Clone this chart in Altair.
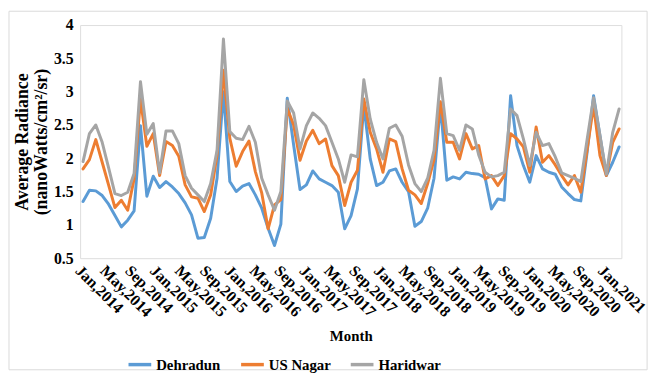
import altair as alt
import pandas as pd

tick_labels = ["Jan,2014", "May,2014", "Sep,2014", "Jan,2015", "May,2015", "Sep,2015",
               "Jan,2016", "May,2016", "Sep,2016", "Jan,2017", "May,2017", "Sep,2017",
               "Jan,2018", "May,2018", "Sep,2018", "Jan,2019", "May,2019", "Sep,2019",
               "Jan,2020", "May,2020", "Sep,2020", "Jan,2021"]

series_names = ["Dehradun", "US Nagar", "Haridwar"]
series_colors = ["#5B9BD5", "#ED7D31", "#A5A5A5"]

dehradun = [1.35, 1.52, 1.51, 1.44, 1.31, 1.14, 0.97, 1.07, 1.21, 2.49,
            1.43, 1.73, 1.56, 1.65, 1.57, 1.47, 1.33, 1.15, 0.80, 0.81,
            1.10, 1.70, 3.00, 1.65, 1.50, 1.58, 1.62, 1.45, 1.25, 0.95,
            0.69, 1.01, 2.90, 2.20, 1.53, 1.60, 1.81, 1.69, 1.64, 1.59,
            1.49, 0.94, 1.14, 1.54, 2.80, 1.99, 1.59, 1.64, 1.81, 1.84,
            1.64, 1.50, 0.98, 1.05, 1.25, 1.70, 2.80, 1.67, 1.72, 1.69,
            1.79, 1.77, 1.76, 1.71, 1.24, 1.39, 1.37, 2.94, 2.19, 1.89,
            1.64, 2.04, 1.84, 1.79, 1.76, 1.57, 1.47, 1.38, 1.36, 2.10,
            2.94, 2.34, 1.74, 1.94, 2.17]

us_nagar = [1.84, 1.98, 2.28, 1.94, 1.60, 1.26, 1.37, 1.22, 1.69, 2.89,
            2.18, 2.37, 1.74, 2.25, 2.19, 2.03, 1.60, 1.42, 1.40, 1.20,
            1.45, 2.05, 3.32, 2.30, 1.88, 2.10, 2.26, 1.80, 1.48, 0.94,
            1.30, 1.38, 2.75, 2.50, 1.97, 2.26, 2.42, 2.22, 2.29, 1.89,
            1.74, 1.29, 1.64, 1.82, 2.89, 2.39, 2.14, 1.79, 2.29, 2.25,
            1.84, 1.52, 1.45, 1.32, 1.62, 1.98, 2.85, 2.24, 2.24, 1.99,
            2.37, 2.14, 2.19, 1.69, 1.74, 1.59, 1.74, 2.37, 2.29, 2.17,
            1.79, 2.47, 1.94, 2.04, 1.90, 1.74, 1.60, 1.74, 1.49, 2.14,
            2.79, 2.04, 1.74, 2.24, 2.44]

haridwar = [1.95, 2.37, 2.50, 2.24, 1.86, 1.47, 1.44, 1.49, 1.77, 3.15,
            2.36, 2.52, 1.78, 2.41, 2.41, 2.22, 1.74, 1.55, 1.45, 1.35,
            1.62, 2.12, 3.79, 2.40, 2.30, 2.28, 2.48, 2.24, 1.70, 1.45,
            1.22, 1.50, 2.86, 2.68, 2.14, 2.49, 2.68, 2.60, 2.49, 2.24,
            1.99, 1.64, 2.05, 2.02, 3.18, 2.59, 2.24, 1.99, 2.45, 2.50,
            2.33, 1.90, 1.62, 1.50, 1.70, 2.12, 3.20, 2.37, 2.34, 2.12,
            2.50, 2.44, 2.05, 1.79, 1.72, 1.74, 1.79, 2.74, 2.64, 2.29,
            1.89, 2.39, 2.19, 2.22, 2.02, 1.78, 1.74, 1.70, 1.65, 2.29,
            2.91, 2.34, 1.76, 2.39, 2.74]

y_ticks = [0.5, 1, 1.5, 2, 2.5, 3, 3.5, 4]

# label spacing as drawn in the reference (slightly tighter than every 4 months)
LABEL_STEP = 3.9

FONT = "Liberation Serif"

rows = []
for name, vals in zip(series_names, [dehradun, us_nagar, haridwar]):
    for i, v in enumerate(vals):
        rows.append({"idx": i, "series": name, "value": v})
df = pd.DataFrame(rows)

label_array = "[" + ",".join("'" + t + "'" for t in tick_labels) + "]"
label_positions = [round(k * LABEL_STEP, 3) for k in range(len(tick_labels))]

x_enc = alt.X("idx:Q",
              scale=alt.Scale(domain=[-0.46, 84.36], nice=False, zero=False),
              axis=alt.Axis(values=label_positions,
                            labelExpr=label_array + "[round(datum.value/" + str(LABEL_STEP) + ")]",
                            labelAngle=45, labelAlign="left", labelBaseline="top",
                            labelFont=FONT, labelFontWeight="bold", labelFontSize=16,
                            labelColor="#000", labelPadding=4, labelOverlap=False,
                            labelFlush=False,
                            ticks=False, domain=False, grid=False,
                            title="Month", titleFont=FONT, titleFontWeight="bold",
                            titleFontSize=15, titleColor="#000",
                            titleY=71, titleBaseline="top"))
y_enc = alt.Y("value:Q",
              scale=alt.Scale(domain=[0.5, 4], nice=False, zero=False),
              axis=alt.Axis(values=y_ticks, format="~g",
                            labelFont=FONT, labelFontWeight="bold", labelFontSize=16,
                            labelColor="#000", labelPadding=7,
                            ticks=False, domain=False, grid=False,
                            title=["Average  Radiance", "(nanoWatts/cm\u00b2/sr)"],
                            titleFont=FONT, titleFontWeight="bold", titleFontSize=18,
                            titleColor="#000", titlePadding=3, titleLineHeight=19))
color_enc = alt.Color("series:N",
                      scale=alt.Scale(domain=series_names, range=series_colors),
                      legend=alt.Legend(orient="none", legendX=47, legendY=330,
                                        direction="horizontal", title=None,
                                        symbolType="stroke", symbolSize=529,
                                        symbolStrokeWidth=3.5,
                                        labelFont=FONT, labelFontWeight="bold",
                                        labelFontSize=15, labelColor="#000",
                                        labelOffset=3, columnPadding=13))

layers = []
for name in series_names:
    layers.append(
        alt.Chart(df).transform_filter(alt.datum.series == name)
        .mark_line(strokeWidth=3, strokeJoin="round", strokeCap="round")
        .encode(x=x_enc, y=y_enc, color=color_enc)
    )

frame = alt.Chart(alt.Data(values=[{"a": 1}])).mark_rect(
    fill=None, stroke="#d9d9d9", strokeWidth=1
).encode(x=alt.value(-72), x2=alt.value(574), y=alt.value(-14), y2=alt.value(349))

chart = alt.layer(frame, *layers).properties(
    width=548, height=236,
    autosize=alt.AutoSizeParams(type="none"),
    padding={"left": 73, "top": 15, "right": 33, "bottom": 115},
).configure_view(stroke="#000", strokeWidth=1).configure(background="white")

chart.save("out.html", embed_options={"renderer": "svg", "actions": False})
